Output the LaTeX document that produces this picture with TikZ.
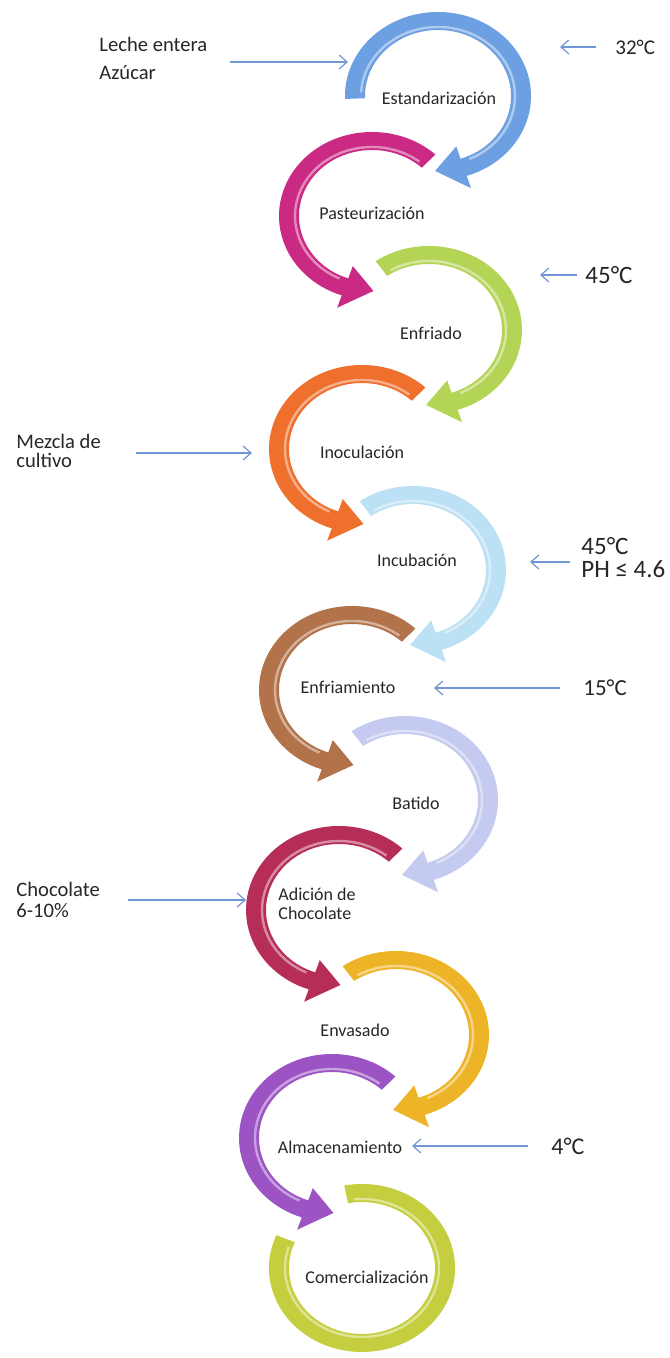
\documentclass[tikz,border=0pt]{standalone}
\usepackage{fontspec}
\setmainfont{Carlito}
\usetikzlibrary{calc,arrows.meta}

\definecolor{ringblue}{RGB}{108,160,226}
\definecolor{ringmagenta}{RGB}{202,42,132}
\definecolor{ringgreen}{RGB}{180,212,86}
\definecolor{ringorange}{RGB}{238,112,44}
\definecolor{ringsky}{RGB}{188,224,244}
\definecolor{ringbrown}{RGB}{178,114,74}
\definecolor{ringlavender}{RGB}{196,202,240}
\definecolor{ringcrimson}{RGB}{182,46,88}
\definecolor{ringgold}{RGB}{238,180,40}
\definecolor{ringpurple}{RGB}{156,84,196}
\definecolor{ringlime}{RGB}{196,206,62}
\definecolor{feedblue}{RGB}{112,150,214}

% ring arrow turning clockwise: centre, colour, tail angle
\newcommand{\cwring}[3]{%
  \fill[#2] ($(#1)+(#3:93 and 84)$) arc[start angle=#3, end angle=-72, x radius=93, y radius=84]
    -- ($(#1)+(-72:107 and 97)$) -- ($(#1)+(-92:83 and 75)$) -- ($(#1)+(-72:59 and 53)$)
    -- ($(#1)+(-72:73 and 66)$) arc[start angle=-72, end angle=#3, x radius=73, y radius=66] -- cycle;
  \draw[white, opacity=.45, line width=1.2pt] ($(#1)+(#3-5:77 and 69)$) arc[start angle=#3-5, end angle=-66, x radius=77, y radius=69];
}
% ring arrow turning counter-clockwise
\newcommand{\ccwring}[3]{%
  \fill[#2] ($(#1)+(#3:93 and 84)$) arc[start angle=#3, end angle=251, x radius=93, y radius=84]
    -- ($(#1)+(251:107 and 97)$) -- ($(#1)+(271:83 and 75)$) -- ($(#1)+(251:59 and 53)$)
    -- ($(#1)+(251:73 and 66)$) arc[start angle=251, end angle=#3, x radius=73, y radius=66] -- cycle;
  \draw[white, opacity=.45, line width=1.2pt] ($(#1)+(#3+5:77 and 69)$) arc[start angle=#3+5, end angle=245, x radius=77, y radius=69];
}

\begin{document}
\begin{tikzpicture}[x=0.5pt,y=0.5pt,
    stage/.style={inner sep=0pt, text=black!85, font=\fontsize{9}{9.5}\selectfont},
    side/.style={inner sep=0pt, anchor=west, align=left, text=black!85, font=\fontsize{10.3}{10.5}\selectfont},
    temp/.style={inner sep=0pt, anchor=west, align=left, text=black!85, font=\fontsize{11.5}{11}\selectfont},
    feed/.style={draw=feedblue, line width=0.6pt, -{Straight Barb[length=4pt,width=7pt]}}]

        \useasboundingbox (0,0) rectangle (669,1358);
        \clip (0,0) rectangle (669,1358);

        % centres of the rings
        \coordinate (c1) at (438,1262);
        \coordinate (c2) at (372,1142);
        \coordinate (c3) at (429,1028);
        \coordinate (c4) at (362,909);
        \coordinate (c5) at (413,788);
        \coordinate (c6) at (352,668);
        \coordinate (c7) at (405,558);
        \coordinate (c8) at (339,448);
        \coordinate (c9) at (396,323);
        \coordinate (c10) at (332,220);
        \coordinate (c11) at (362,90);

        \cwring{c1}{ringblue}{182}
        \ccwring{c2}{ringmagenta}{47}
        \cwring{c3}{ringgreen}{125}
        \ccwring{c4}{ringorange}{47}
        \cwring{c5}{ringsky}{125}
        \ccwring{c6}{ringbrown}{47}
        \cwring{c7}{ringlavender}{125}
        \ccwring{c8}{ringcrimson}{47}
        \cwring{c9}{ringgold}{125}
        \ccwring{c10}{ringpurple}{47}
        \fill[ringlime] ($(c11)+(101:93 and 84)$) arc[start angle=101, end angle=-203, x radius=93, y radius=84]
          -- ($(c11)+(-203:73 and 66)$) arc[start angle=-203, end angle=101, x radius=73, y radius=66] -- cycle;
        \draw[white, opacity=.45, line width=1.2pt] ($(c11)+(96:77 and 69)$) arc[start angle=96, end angle=-198, x radius=77, y radius=69];

        \node [stage] (estand) at (439,1260) {Estandarización};
        \node [stage] (pasteur) at (372,1145) {Pasteurización};
        \node [stage] (enfriado) at (431,1025) {Enfriado};
        \node [stage] (inocul) at (362,906) {Inoculación};
        \node [stage] (incub) at (417,798) {Incubación};
        \node [stage] (enfriam) at (348,671) {Enfriamiento};
        \node [stage] (batido) at (416,555) {Batido};
        \node [stage, align=left] (adicion) at (317,454) {Adición de\\Chocolate};
        \node [stage] (envas) at (355,328) {Envasado};
        \node [stage] (almacen) at (340,211) {Almacenamiento};
        \node [stage] (comerc) at (367,81) {Comercialización};

        \node [side, font=\fontsize{10.3}{14}\selectfont] (leche) at (99,1300) {Leche entera\\Azúcar};
        \node [side, font=\fontsize{10.3}{9.5}\selectfont] (mezcla) at (16,907) {Mezcla de\\cultivo};
        \node [side] (choco) at (16,458) {Chocolate\\6-10\%};
        \node [temp, font=\fontsize{10.5}{11}\selectfont] (t32) at (615,1311) {32°C};
        \node [temp, font=\fontsize{12.5}{11}\selectfont] (t45) at (585,1083) {45°C};
        \node [temp, font=\fontsize{12.5}{11.5}\selectfont] (tph) at (581,800) {45°C\\PH ≤ 4.6};
        \node [temp] (t15) at (583,670) {15°C};
        \node [temp, font=\fontsize{12}{11}\selectfont] (t4) at (551,212) {4°C};

        \coordinate (inLeche) at (348,1296);
        \coordinate (in32) at (560,1311);
        \coordinate (in45) at (540,1083);
        \coordinate (inMezcla) at (252,905);
        \coordinate (inPH) at (530,796);
        \coordinate (in15) at (434,670);
        \coordinate (inChoco) at (246,458);
        \coordinate (in4) at (412,212);

        \draw [feed, shorten <=11pt] (leche.east |- inLeche) -- (inLeche);
        \draw [feed, shorten <=9.5pt] (t32.west) -- (in32);
        \draw [feed, shorten <=4pt] (t45.west) -- (in45);
        \draw [feed, shorten <=17.5pt] (mezcla.east |- inMezcla) -- (inMezcla);
        \draw [feed, shorten <=5.5pt] (tph.west |- inPH) -- (inPH);
        \draw [feed, shorten <=11.5pt] (t15.west) -- (in15);
        \draw [feed, shorten <=14pt] (choco.east |- inChoco) -- (inChoco);
        \draw [feed, shorten <=11.5pt] (t4.west) -- (in4);
      \end{tikzpicture}
\end{document}
